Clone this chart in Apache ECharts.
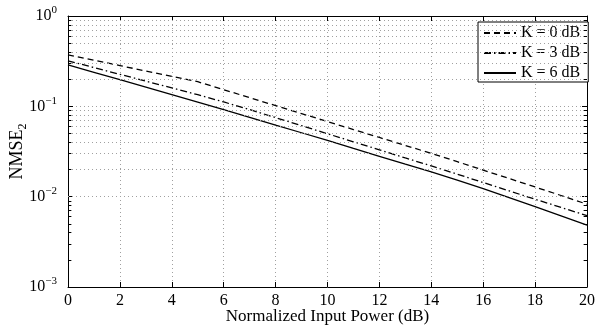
<!DOCTYPE html>
<html>
<head>
<meta charset="utf-8">
<script src="https://cdn.jsdelivr.net/npm/echarts@6/dist/echarts.min.js"></script>
<style>html,body{margin:0;padding:0;background:#fff}#c{width:597px;height:325px}</style>
</head>
<body>
<div id="c"></div>
<script>
// Data
const xVals = [0,1,2,3,4,5,6,7,8,9,10,11,12,13,14,15,16,17,18,19,20];
const k0 = [0.3715,0.324,0.2825,0.246,0.2147,0.1872,0.1528,0.1247,0.1018,0.0831,0.0678,0.0553,0.0452,0.0369,0.0301,0.0244,0.0197,0.01588,0.0128,0.0103,0.00825];
const k3 = [0.319,0.2685,0.2259,0.1901,0.16,0.1346,0.1118,0.092,0.075,0.0611,0.0497,0.0405,0.033,0.0268,0.0219,0.01775,0.01434,0.01159,0.00936,0.0076,0.00616];
const k6 = [0.2883,0.2383,0.197,0.1628,0.1346,0.1113,0.092,0.0756,0.062,0.051,0.0419,0.0342,0.028,0.0229,0.01877,0.01524,0.01225,0.00977,0.00776,0.00614,0.00484];
const seriesNames = ['K = 0 dB','K = 3 dB','K = 6 dB'];
const xTicks = [0,2,4,6,8,10,12,14,16,18,20];
const yDecades = [0.001,0.01,0.1,1];
const minorMult = [2,3,4,5,6,7,8,9];

const minorVals = [];
yDecades.slice(0,3).forEach(d => minorMult.forEach(m => minorVals.push(d*m)));

const FONT = 'Liberation Serif';
const chart = echarts.init(document.getElementById('c'), null, {renderer:'canvas'});
const pairs = arr => xVals.map((x,i)=>[x,arr[i]]);
const expStr = v => String(Math.round(Math.log10(v))).replace('-','\u2212');

const axisLine = {show:true, onZero:false, lineStyle:{color:'#000', width:1}};
const gridDot = {show:true, lineStyle:{color:'#a0a0a0', width:1, type:[1,3]}};

const lineBase = {type:'line', showSymbol:false, symbol:'none', animation:false, silent:true, xAxisIndex:0, yAxisIndex:0};

const tickLen = 0.13;
const minorTicks = [];
minorVals.forEach(v => {
  minorTicks.push([{coord:[0,v]},{coord:[tickLen,v]}]);
  minorTicks.push([{coord:[20-tickLen,v]},{coord:[20,v]}]);
});

chart.setOption({
  animation:false,
  backgroundColor:'#fff',
  grid:{left:68, right:10, top:16, bottom:38, containLabel:false, outerBoundsMode:'none'},
  legend:{
    data:seriesNames,
    left:478, top:22,
    orient:'vertical',
    itemWidth:32, itemHeight:14, itemGap:4,
    padding:[3,8,1,5],
    backgroundColor:'#fff', borderColor:'#000', borderWidth:1,
    itemStyle:{color:'rgba(0,0,0,0)', borderColor:'rgba(0,0,0,0)', borderWidth:0, opacity:0},
    textStyle:{fontFamily:FONT, fontSize:16, color:'#000'},
    selectedMode:false
  },
  xAxis:[{
    type:'value', min:0, max:20, interval:2, position:'bottom',
    axisLine:axisLine,
    axisTick:{show:true, inside:true, length:5, lineStyle:{color:'#000'}},
    axisLabel:{show:true, margin:6, fontFamily:FONT, fontSize:16, color:'#000'},
    splitLine:gridDot,
    name:'Normalized Input Power (dB)', nameLocation:'middle', nameGap:21, nameMoveOverlap:false,
    nameTextStyle:{fontFamily:FONT, fontSize:17, color:'#000', verticalAlign:'top'}
  },{
    type:'value', min:0, max:20, interval:2, position:'top',
    axisLine:axisLine,
    axisTick:{show:true, inside:true, length:5, lineStyle:{color:'#000'}},
    axisLabel:{show:false}, splitLine:{show:false}
  }],
  yAxis:[{
    type:'log', logBase:10, min:0.001, max:1, position:'left',
    axisLine:axisLine,
    axisTick:{show:true, inside:true, length:5, lineStyle:{color:'#000'}},
    axisLabel:{show:true, margin:11, fontFamily:FONT, color:'#000',
      formatter: v => '{b|10}{s|' + expStr(v) + '}',
      rich:{b:{fontFamily:FONT, fontSize:16, lineHeight:22, verticalAlign:'middle'},
            s:{fontFamily:FONT, fontSize:11, lineHeight:11, verticalAlign:'top'}}},
    splitLine:gridDot,
    name:'{a|NMSE}{b|2}', nameLocation:'middle', nameGap:39, nameMoveOverlap:false,
    nameTextStyle:{fontFamily:FONT, color:'#000',
      rich:{a:{fontFamily:FONT, fontSize:18, lineHeight:24, verticalAlign:'middle'},
            b:{fontFamily:FONT, fontSize:12, lineHeight:12, verticalAlign:'bottom'}}}
  },{
    type:'log', logBase:10, min:0.001, max:1, position:'right',
    axisLine:axisLine,
    axisTick:{show:true, inside:true, length:5, lineStyle:{color:'#000'}},
    axisLabel:{show:false}, splitLine:{show:false}
  }],
  series:[
    Object.assign({}, lineBase, {name:'minorGrid', data:[], markLine:{silent:true, animation:false, symbol:['none','none'], label:{show:false},
      lineStyle:{color:'#a0a0a0', width:1, type:[1,3]}, data: minorVals.map(v=>({yAxis:v}))}}),
    Object.assign({}, lineBase, {name:'minorTicks', data:[], markLine:{silent:true, animation:false, symbol:['none','none'], label:{show:false},
      lineStyle:{color:'#000', width:1, type:'solid'}, data: minorTicks}}),
    Object.assign({}, lineBase, {name:seriesNames[0], data:pairs(k0), lineStyle:{color:'#000', width:1.3, type:[6,4]}, itemStyle:{color:'#000'}}),
    Object.assign({}, lineBase, {name:seriesNames[1], data:pairs(k3), lineStyle:{color:'#000', width:1.3, type:[7,3,1.5,3]}, itemStyle:{color:'#000'}}),
    Object.assign({}, lineBase, {name:seriesNames[2], data:pairs(k6), lineStyle:{color:'#000', width:1.3, type:'solid'}, itemStyle:{color:'#000'}})
  ]
});
</script>
</body>
</html>
